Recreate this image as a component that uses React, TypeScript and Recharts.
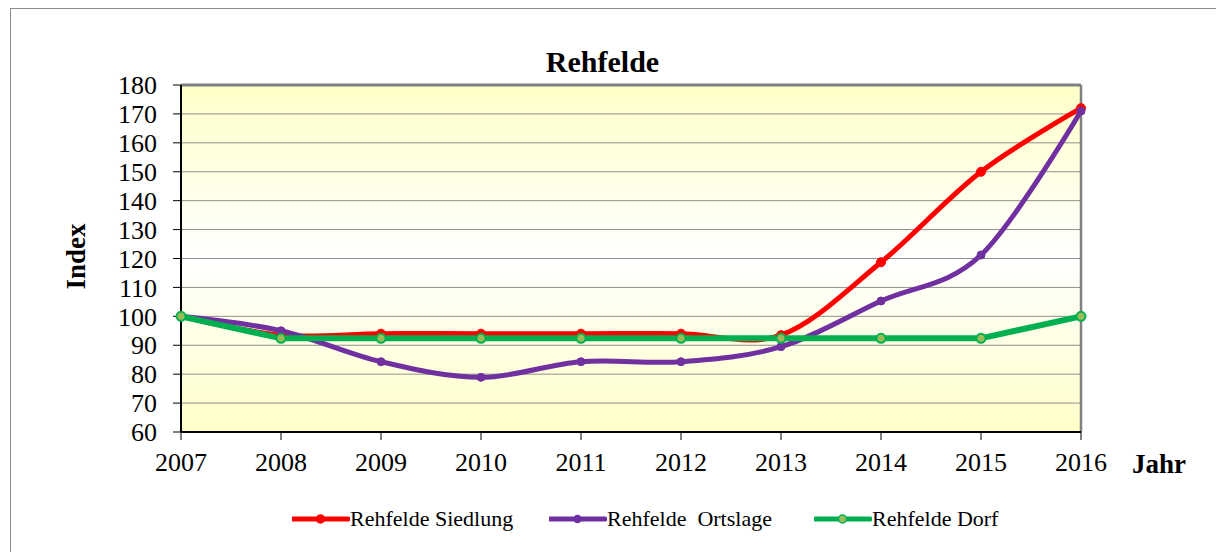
import React from 'react';
import { LineChart, Line, XAxis, YAxis, CartesianGrid, ReferenceLine, Legend } from 'recharts';

const years = [2007, 2008, 2009, 2010, 2011, 2012, 2013, 2014, 2015, 2016];
const siedlung = [100, 93.5, 94, 94, 94, 94, 93.5, 118.7, 150, 172];
const ortslage = [100, 95, 84.3, 78.9, 84.3, 84.3, 89.5, 105.3, 121.2, 171];
const dorf = [100, 92.4, 92.4, 92.4, 92.4, 92.4, 92.4, 92.4, 92.4, 100];
const yTicks = [60, 70, 80, 90, 100, 110, 120, 130, 140, 150, 160, 170, 180];
const seriesNames = ['Rehfelde Siedlung', 'Rehfelde  Ortslage', 'Rehfelde Dorf'];
const titleText = 'Rehfelde';
const yLabel = 'Index';
const xLabel = 'Jahr';

const data = years.map((y, i) => ({ year: y, s: siedlung[i], o: ortslage[i], d: dorf[i] }));

const FONT = '"Liberation Serif", "Times New Roman", serif';

// Catmull-Rom (cardinal, tension 0) curve similar to Excel smoothed lines
function cardinalPoint(t: any, x: number, y: number) {
  const k = 1 / 6;
  t._context.bezierCurveTo(
    t._x1 + k * (t._x2 - t._x0),
    t._y1 + k * (t._y2 - t._y0),
    t._x2 + k * (t._x1 - x),
    t._y2 + k * (t._y1 - y),
    t._x2,
    t._y2
  );
}
function smoothCurve(context: any) {
  const t: any = { _context: context, _line: NaN };
  t.areaStart = function () { t._line = 0; };
  t.areaEnd = function () { t._line = NaN; };
  t.lineStart = function () {
    t._x0 = t._x1 = t._x2 = t._y0 = t._y1 = t._y2 = NaN;
    t._point = 0;
  };
  t.lineEnd = function () {
    switch (t._point) {
      case 2: t._context.lineTo(t._x2, t._y2); break;
      case 3: cardinalPoint(t, t._x1, t._y1); break;
    }
    if (t._line || (t._line !== 0 && t._point === 1)) t._context.closePath();
    t._line = 1 - t._line;
  };
  t.point = function (x: number, y: number) {
    x = +x; y = +y;
    switch (t._point) {
      case 0: t._point = 1; t._line ? t._context.lineTo(x, y) : t._context.moveTo(x, y); break;
      case 1: t._point = 2; t._x1 = x; t._y1 = y; break;
      case 2: t._point = 3; cardinalPoint(t, x, y); break;
      default: cardinalPoint(t, x, y); break;
    }
    t._x0 = t._x1; t._x1 = t._x2; t._x2 = x;
    t._y0 = t._y1; t._y1 = t._y2; t._y2 = y;
  };
  return t;
}

const RED = '#FF0000';
const PURPLE = '#7030A0';
const GREEN = '#00B050';
const GREEN_DOT = '#9BBB59';

const legendDefs = [
  { name: seriesNames[0], color: RED, dotFill: RED, dotStroke: RED, r: 4, left: 292 },
  { name: seriesNames[1], color: PURPLE, dotFill: PURPLE, dotStroke: PURPLE, r: 3.5, left: 549 },
  { name: seriesNames[2], color: GREEN, dotFill: GREEN_DOT, dotStroke: GREEN, r: 4, left: 814 },
];

const renderLegend = () => (
  <div style={{ position: 'relative', width: 1216, height: 28 }}>
    {legendDefs.map((it) => (
      <div key={it.name} style={{ position: 'absolute', left: it.left, top: 0, height: 28, display: 'flex', alignItems: 'center' }}>
        <svg width={58} height={14} style={{ display: 'block' }}>
          <line x1={1} y1={7} x2={56} y2={7} stroke={it.color} strokeWidth={5} strokeLinecap="round" />
          <circle cx={28.5} cy={7} r={it.r} fill={it.dotFill} stroke={it.dotStroke} strokeWidth={1.5} />
        </svg>
        <span style={{ fontFamily: FONT, fontSize: 22, color: '#000', whiteSpace: 'pre', lineHeight: '28px' }}>{it.name}</span>
      </div>
    ))}
  </div>
);

export default function App() {
  return (
    <div style={{ position: 'absolute', left: 0, top: 0, width: 1216, height: 552, overflow: 'hidden', background: '#fff' }}>
      <div style={{ position: 'absolute', left: 10, top: 8, width: 1230, height: 600, border: '1.5px solid #8c8c8c', boxSizing: 'border-box' }} />
      <div style={{ position: 'absolute', left: 0, top: 0 }}>
        <LineChart width={1216} height={552} data={data} margin={{ top: 85, right: 135, bottom: 80, left: 0 }}>
          <defs>
            <linearGradient id="plotBg" x1="0" y1="0" x2="0" y2="1">
              <stop offset="0%" stopColor="#FFFFC8" />
              <stop offset="50%" stopColor="#FFFFFF" />
              <stop offset="100%" stopColor="#FFFFC8" />
            </linearGradient>
          </defs>
          <CartesianGrid vertical={false} stroke="#8f8f8f" strokeWidth={1} fill="url(#plotBg)" fillOpacity={1} />
          <XAxis
            dataKey="year"
            type="number"
            domain={[years[0], years[years.length - 1]]}
            ticks={years}
            height={40}
            axisLine={{ stroke: '#000', strokeWidth: 2 }}
            tickLine={{ stroke: '#000', strokeWidth: 1 }}
            tickSize={8}
            tickMargin={13}
            tick={{ fontFamily: FONT, fontSize: 26, fill: '#000' }}
            interval={0}
          />
          <YAxis
            type="number"
            domain={[yTicks[0], yTicks[yTicks.length - 1]]}
            ticks={yTicks}
            width={181}
            axisLine={{ stroke: '#000', strokeWidth: 2 }}
            tickLine={{ stroke: '#000', strokeWidth: 1 }}
            tickSize={8}
            tickMargin={16}
            tick={{ fontFamily: FONT, fontSize: 26, fill: '#000' }}
            interval={0}
          />
          <ReferenceLine y={yTicks[yTicks.length - 1]} stroke="#808080" strokeWidth={3} />
          <ReferenceLine x={years[years.length - 1]} stroke="#808080" strokeWidth={2.5} />
          <Line
            dataKey="s"
            name={seriesNames[0]}
            type={smoothCurve as any}
            stroke={RED}
            strokeWidth={5}
            dot={{ r: 4.5, fill: RED, stroke: RED, strokeWidth: 1 }}
            activeDot={false}
            isAnimationActive={false}
          />
          <Line
            dataKey="o"
            name={seriesNames[1]}
            type={smoothCurve as any}
            stroke={PURPLE}
            strokeWidth={5}
            dot={{ r: 4, fill: PURPLE, stroke: PURPLE, strokeWidth: 1 }}
            activeDot={false}
            isAnimationActive={false}
          />
          <Line
            dataKey="d"
            name={seriesNames[2]}
            type="linear"
            stroke={GREEN}
            strokeWidth={6}
            dot={{ r: 4.5, fill: GREEN_DOT, stroke: GREEN, strokeWidth: 2 }}
            activeDot={false}
            isAnimationActive={false}
          />
          <Legend
            layout="horizontal"
            verticalAlign="middle"
            align="center"
            content={renderLegend}
            wrapperStyle={{ top: 505, left: 0, width: 1216 }}
          />
        </LineChart>
      </div>
      <svg width={1216} height={552} style={{ position: 'absolute', left: 0, top: 0, pointerEvents: 'none' }}>
        <text x={602.5} y={72} textAnchor="middle" fontFamily={FONT} fontSize={30} fontWeight="bold" fill="#000">{titleText}</text>
        <text x={85} y={256.5} textAnchor="middle" fontFamily={FONT} fontSize={27} fontWeight="bold" fill="#000" transform="rotate(-90 85 256.5)">{yLabel}</text>
        <text x={1132} y={473} textAnchor="start" fontFamily={FONT} fontSize={27} fontWeight="bold" fill="#000">{xLabel}</text>
      </svg>
    </div>
  );
}
